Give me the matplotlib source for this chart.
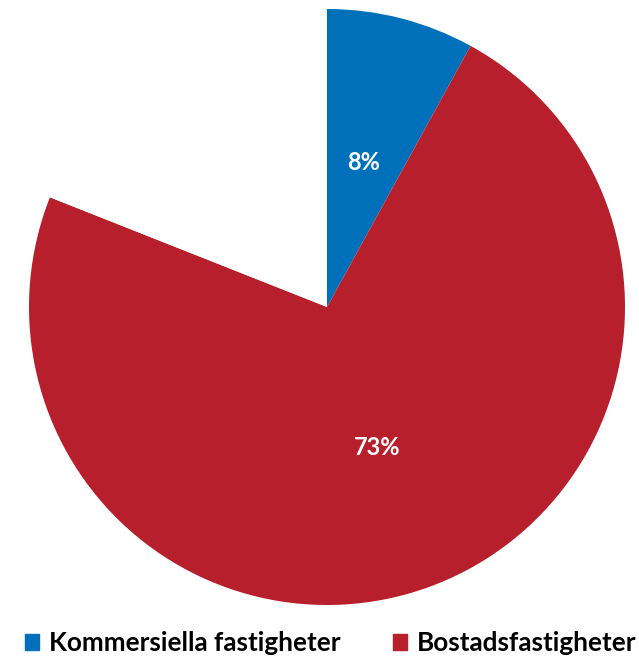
import matplotlib
matplotlib.use("Agg")
from matplotlib import pyplot as plt
import matplotlib.patches as patches

# shares of the total (the rest is left blank)
categories = ["Kommersiella fastigheter", "Bostadsfastigheter", ""]
shares = [8, 73, 19]
pct_labels = ["8%", "73%", ""]
colors = ["#0070BA", "#B81F2C", "white"]

plt.rcParams['font.family'] = ['Lato', 'DejaVu Sans']

fig = plt.figure(figsize=(6.39, 6.56), dpi=100)
ax = fig.add_axes([29 / 639, 51 / 656, 596 / 639, 596 / 656])

wedges, texts, autotexts = ax.pie(
    shares, colors=colors, startangle=90, counterclock=False,
    autopct='%1.0f%%', pctdistance=0.5, radius=1.0,
    textprops=dict(color='white', fontsize=17, fontweight='bold'))
for t, lab in zip(autotexts, pct_labels):
    t.set_text(lab)
ax.set_xlim(-1, 1)
ax.set_ylim(-1, 1)
ax.set_aspect('equal')
ax.axis('off')

# legend (only the two named categories)
handles = [patches.Patch(color=colors[i], label=categories[i]) for i in range(2)]
fig.legend(handles=handles, loc='center left', ncol=2, frameon=False,
           bbox_to_anchor=(25 / 639, 13 / 656), prop=dict(size=18.8, weight='bold'),
           handlelength=0.54, handleheight=0.54, handletextpad=0.38,
           columnspacing=2.0, borderaxespad=0.0, borderpad=0.0)

fig.savefig('out.png', dpi=100)
